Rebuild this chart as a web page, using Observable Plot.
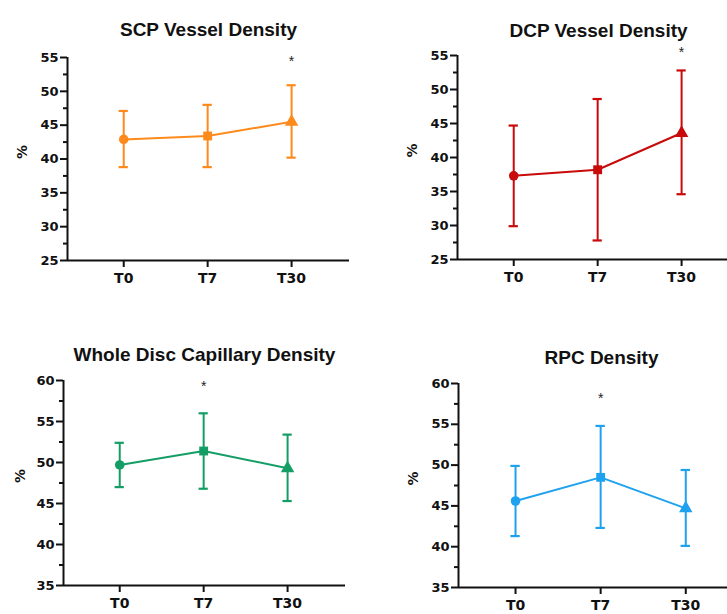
<!DOCTYPE html>
<html>
<head>
<meta charset="utf-8">
<script src="https://cdn.jsdelivr.net/npm/d3@7"></script>
<script src="https://cdn.jsdelivr.net/npm/@observablehq/plot@0.6"></script>
<style>
  html, body { margin: 0; padding: 0; background: #fff; }
  body { width: 727px; height: 614px; overflow: hidden; position: relative; font-family: "Liberation Sans", Arial, sans-serif; }
  .panel { position: absolute; }
  .panel svg { max-width: none !important; }
</style>
</head>
<body>
<script>
// Categories
const times = ["T0", "T7", "T30"];
const symbols = ["circle", "square", "triangle"];

// SCP Vessel Density
const scpMean = [42.9, 43.4, 45.5];
const scpHi   = [47.1, 48.0, 50.9];
const scpLo   = [38.8, 38.8, 40.2];
const scpSig  = ["T30"];
const scpSigY = [54.4];

// DCP Vessel Density
const dcpMean = [37.3, 38.2, 43.6];
const dcpHi   = [44.7, 48.6, 52.8];
const dcpLo   = [29.9, 27.8, 34.6];
const dcpSig  = ["T30"];
const dcpSigY = [55.4];

// Whole Disc Capillary Density
const wdMean = [49.7, 51.4, 49.3];
const wdHi   = [52.4, 56.0, 53.4];
const wdLo   = [47.0, 46.8, 45.3];
const wdSig  = ["T7"];
const wdSigY = [59.3];

// RPC Density
const rpcMean = [45.6, 48.5, 44.7];
const rpcHi   = [49.9, 54.8, 49.4];
const rpcLo   = [41.3, 42.3, 40.1];
const rpcSig  = ["T7"];
const rpcSigY = [58.2];

// Axis tick labels
const yTicksTop = [25, 30, 35, 40, 45, 50, 55];
const yTicksBottom = [35, 40, 45, 50, 55, 60];

const titleFont = "'Liberation Sans', Arial, sans-serif";
const tickFont = "'DejaVu Sans', Verdana, sans-serif";

function rows(mean, hi, lo) {
  return times.map((t, i) => ({t, i, mean: mean[i], hi: hi[i], lo: lo[i], sym: symbols[i]}));
}

function panel(cfg) {
  const data = rows(cfg.mean, cfg.hi, cfg.lo);
  const major = cfg.yTicks;
  const minor = major.slice(0, -1).map(v => v + (major[1] - major[0]) / 2);
  const ymin = major[0], ymax = major[major.length - 1];
  const sig = cfg.sig.map((t, k) => ({i: times.indexOf(t), y: cfg.sigY[k]}));
  const capHalf = 0.055;
  const plot = Plot.plot({
    width: cfg.width,
    height: cfg.height,
    marginLeft: cfg.ml,
    marginRight: 10,
    marginTop: cfg.mt,
    marginBottom: cfg.mb,
    style: {fontFamily: tickFont, color: "#111", background: "transparent", overflow: "visible", maxWidth: "none"},
    x: {domain: [-0.67, 2.69], axis: null},
    y: {domain: [ymin, ymax], axis: null},
    marks: [
      Plot.ruleY([ymin], {stroke: "#111", strokeWidth: 2}),
      Plot.ruleX([-0.67], {y1: ymin, y2: ymax, stroke: "#111", strokeWidth: 2}),
      Plot.axisY(major, {tickSize: 7, tickPadding: 2, strokeWidth: 2, fontSize: 13, fontWeight: "bold", label: null, tickFormat: d => d}),
      Plot.axisY(minor, {tickSize: 4, strokeWidth: 2, tickFormat: () => "", label: null}),
      Plot.axisX([0, 1, 2], {tickSize: 7, tickPadding: 6, strokeWidth: 2, fontSize: 14, fontWeight: "bold", label: null, tickFormat: i => times[i]}),
      Plot.ruleX(data, {x: "i", y1: "lo", y2: "hi", stroke: cfg.color, strokeWidth: 2}),
      Plot.ruleY(data, {y: "hi", x1: d => d.i - capHalf, x2: d => d.i + capHalf, stroke: cfg.color, strokeWidth: 2.2}),
      Plot.ruleY(data, {y: "lo", x1: d => d.i - capHalf, x2: d => d.i + capHalf, stroke: cfg.color, strokeWidth: 2.2}),
      Plot.line(data, {x: "i", y: "mean", stroke: cfg.color, strokeWidth: 2}),
      Plot.dot(data, {filter: d => d.sym === "circle", x: "i", y: "mean", symbol: "circle", fill: cfg.color, r: 4.8}),
      Plot.dot(data, {filter: d => d.sym === "square", x: "i", y: "mean", symbol: "square", fill: cfg.color, r: 5}),
      Plot.dot(data, {filter: d => d.sym === "triangle", x: "i", y: "mean", symbol: "triangle", fill: cfg.color, r: 5}),
      Plot.text(sig, {x: "i", y: "y", text: () => "*", fontSize: 14, fill: "#222", fontFamily: titleFont}),
      Plot.text([cfg.title], {frameAnchor: "top", dy: cfg.titleDy, fontSize: 19, fontWeight: "bold", fill: "#111", fontFamily: titleFont}),
      Plot.text(["%"], {frameAnchor: "left", dx: cfg.labelDx, rotate: -90, fontSize: 14, fontWeight: "bold", fill: "#111"})
    ]
  });
  const div = document.createElement("div");
  div.className = "panel";
  div.style.left = cfg.left + "px";
  div.style.top = cfg.top + "px";
  div.style.width = cfg.width + "px";
  div.appendChild(plot);
  document.body.appendChild(div);
}

panel({title: "SCP Vessel Density", mean: scpMean, hi: scpHi, lo: scpLo, sig: scpSig, sigY: scpSigY,
  color: "#FF8A1C", yTicks: yTicksTop, left: 0, top: 0, width: 359, height: 300, ml: 67, mt: 57, mb: 40, titleDy: -35, labelDx: -45});
panel({title: "DCP Vessel Density", mean: dcpMean, hi: dcpHi, lo: dcpLo, sig: dcpSig, sigY: dcpSigY,
  color: "#C80A0A", yTicks: yTicksTop, left: 390, top: 0, width: 359, height: 300, ml: 67, mt: 55, mb: 41, titleDy: -32, labelDx: -45});
panel({title: "Whole Disc Capillary Density", mean: wdMean, hi: wdHi, lo: wdLo, sig: wdSig, sigY: wdSigY,
  color: "#149E66", yTicks: yTicksBottom, left: 0, top: 300, width: 355, height: 314, ml: 63, mt: 80, mb: 29, titleDy: -33, labelDx: -43});
panel({title: "RPC Density", mean: rpcMean, hi: rpcHi, lo: rpcLo, sig: rpcSig, sigY: rpcSigY,
  color: "#1EA2F0", yTicks: yTicksBottom, left: 395, top: 300, width: 359, height: 314, ml: 63, mt: 83, mb: 27, titleDy: -33, labelDx: -45});
</script>
</body>
</html>
